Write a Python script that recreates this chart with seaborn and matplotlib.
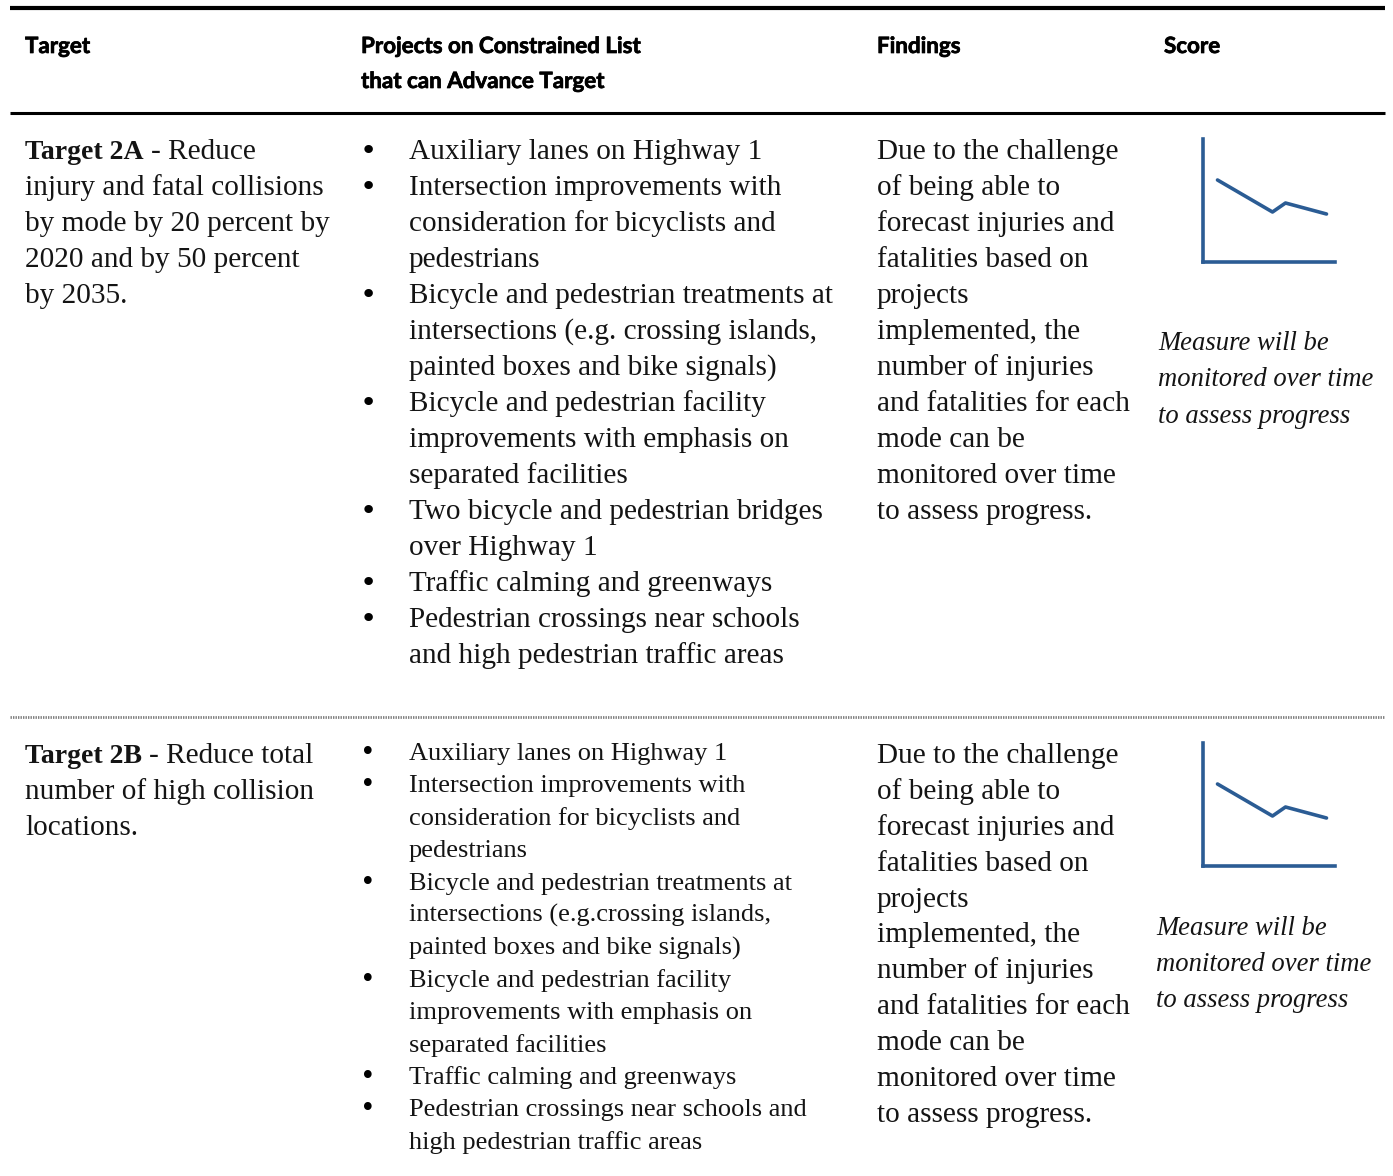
import seaborn as sns
import matplotlib.pyplot as plt
import matplotlib.patheffects as pe
import pandas as pd

sns.set_theme(style="white")
plt.rcParams["font.family"] = ["Liberation Serif", "DejaVu Serif"]

headers = ["Target", "Projects on Constrained List\nthat can Advance Target", "Findings", "Score"]

target_a_bold = "Target 2A"
target_a = ["Target 2A - Reduce", "injury and fatal collisions", "by mode by 20 percent by",
            "2020 and by 50 percent", "by 2035."]
target_b_bold = "Target 2B"
target_b = ["Target 2B - Reduce total", "number of high collision", "locations."]

projects_a = [
    ["Auxiliary lanes on Highway 1"],
    ["Intersection improvements with", "consideration for bicyclists and", "pedestrians"],
    ["Bicycle and pedestrian treatments at", "intersections (e.g. crossing islands,",
     "painted boxes and bike signals)"],
    ["Bicycle and pedestrian facility", "improvements with emphasis on", "separated facilities"],
    ["Two bicycle and pedestrian bridges", "over Highway 1"],
    ["Traffic calming and greenways"],
    ["Pedestrian crossings near schools", "and high pedestrian traffic areas"],
]
projects_b = [
    ["Auxiliary lanes on Highway 1"],
    ["Intersection improvements with", "consideration for bicyclists and", "pedestrians"],
    ["Bicycle and pedestrian treatments at", "intersections (e.g.crossing islands,",
     "painted boxes and bike signals)"],
    ["Bicycle and pedestrian facility", "improvements with emphasis on", "separated facilities"],
    ["Traffic calming and greenways"],
    ["Pedestrian crossings near schools and", "high pedestrian traffic areas"],
]
findings = ["Due to the challenge", "of being able to", "forecast injuries and",
            "fatalities based on", "projects", "implemented, the", "number of injuries",
            "and fatalities for each", "mode can be", "monitored over time",
            "to assess progress."]
score_note = ["Measure will be", "monitored over time", "to assess progress"]

trend_time = [15, 70, 83, 124]
trend_value = [82, 50, 59, 48]

INK = "#141414"
BLUE = "#2b5c94"
BODY = 21.1
BOLD = 20.0
SMALL = 19.0
NOTE = 19.2

fig = plt.figure(figsize=(13.93, 11.76), dpi=100)
ax = fig.add_axes([0, 0, 1, 1])
ax.set_xlim(0, 1393)
ax.set_ylim(1176, 0)
ax.axis("off")

# rules
ax.plot([10, 1385], [8, 8], color="black", lw=3.0, solid_capstyle="butt")
ax.plot([10, 1385], [113, 113], color="black", lw=2.2, solid_capstyle="butt")
ax.plot([10, 1385], [717, 717], color="#808080", lw=2.0, ls=(0, (0.5, 0.4)))

# header row, no condensed bold installed so Lato is the closest fit
head_x = [25, 361, 877, 1164]
for x, h in zip(head_x, headers):
    for i, line in enumerate(h.split("\n")):
        ax.text(x, 53 + 35 * i, line, family="Lato", fontweight="bold", fontsize=16.1,
                color="black", va="baseline",
                path_effects=[pe.withStroke(linewidth=0.5, foreground="black")])


def target_block(lines, bold, y0):
    renderer = fig.canvas.get_renderer()
    first = ax.text(25, y0, bold, fontsize=BOLD, fontweight="bold", color=INK, va="baseline")
    box = first.get_window_extent(renderer)
    ax.text(box.x1 + 7, y0, lines[0][len(bold) + 1:], fontsize=BODY, color=INK, va="baseline")
    for i, line in enumerate(lines[1:], 1):
        ax.text(25, y0 + 36 * i, line, fontsize=BODY, color=INK, va="baseline")


def bullets(groups, y0, step, size):
    n = 0
    for g in groups:
        ax.text(368, y0 + step * n, "\u2022", fontsize=size, color="black", va="baseline", ha="center",
                family="DejaVu Sans")
        for line in g:
            ax.text(409, y0 + step * n, line, fontsize=size, color=INK, va="baseline")
            n += 1


def icon(top):
    a = fig.add_axes([1202.5 / 1393, 1 - (top + 123) / 1176, 132 / 1393, 123 / 1176])
    df = pd.DataFrame({"time": trend_time, "value": trend_value})
    sns.lineplot(df, x="time", y="value", ax=a, color=BLUE, lw=2.6)
    a.set_xlim(0, 132)
    a.set_ylim(0, 123)
    a.set_xticks([])
    a.set_yticks([])
    a.set_xlabel("")
    a.set_ylabel("")
    a.patch.set_alpha(0)
    sns.despine(ax=a)
    for side in ["left", "bottom"]:
        a.spines[side].set_color(BLUE)
        a.spines[side].set_linewidth(2.6)


target_block(target_a, target_a_bold, 159)
target_block(target_b, target_b_bold, 763)
bullets(projects_a, 159, 36, BODY)
bullets(projects_b, 760, 32.4, SMALL)

for i, line in enumerate(findings):
    ax.text(877, 159 + 36 * i, line, fontsize=BODY, color=INK, va="baseline")
    ax.text(877, 763 + 35.9 * i, line, fontsize=BODY, color=INK, va="baseline")

for i, line in enumerate(score_note):
    ax.text(1158, 350 + 36.5 * i, line, fontsize=NOTE, style="italic", color=INK, va="baseline")
    ax.text(1156, 935 + 36 * i, line, fontsize=NOTE, style="italic", color=INK, va="baseline")

icon(139)
icon(743)

fig.savefig("out.png", dpi=100)
